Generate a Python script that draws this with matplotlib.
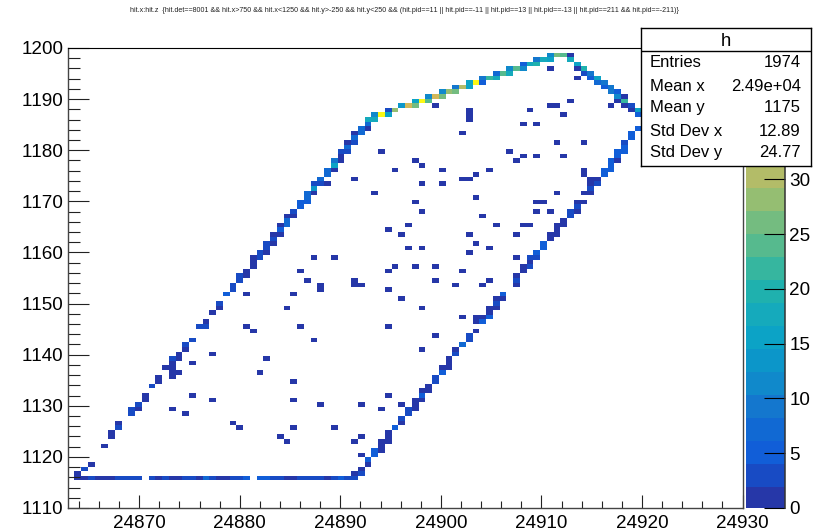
import numpy as np
import matplotlib
matplotlib.use('Agg')
import matplotlib.pyplot as plt
from matplotlib.colors import ListedColormap, BoundaryNorm
from matplotlib.ticker import MultipleLocator

plt.rcParams['font.family'] = ['Liberation Sans', 'DejaVu Sans']
plt.rcParams['text.kerning_factor'] = 6

titulo = ('hit.x:hit.z  {hit.det==8001 && hit.x>750 && hit.x<1250 && hit.y>-250 && hit.y<250 && '
          '(hit.pid==11 || hit.pid==-11 || hit.pid==13 || hit.pid==-13 || hit.pid==211 && hit.pid==-211)}')

x_min, x_max = 24862.87, 24930.0
y_min, y_max = 1110, 1200
n_bins = 100
z_max = 42
n_bandas = 20

# fila de abajo
fondo_ix = [1, 2, 3, 4, 5, 6, 7, 8, 9, 10, 12, 13, 14, 15, 16, 17, 18, 19, 20, 21, 22, 23, 24, 25, 26,
            28, 29, 30, 31, 32, 33, 34, 35, 36, 37, 38, 39, 40, 41, 42]
fondo_n = [2, 2, 3, 2, 2, 2, 4, 4, 3, 3, 4, 2, 3, 2, 2, 3, 3, 2, 7, 3, 2, 2, 3, 3, 5,
           5, 5, 3, 3, 2, 2, 3, 3, 4, 4, 2, 3, 5, 4, 4]
fondo_iy = [6] * len(fondo_ix)

# borde izquierdo
izq_ix = [1, 2, 3, 5, 6, 6, 7, 7, 9, 9, 10, 10, 11, 11, 12, 13, 13, 14, 15, 15, 15, 15, 15, 16, 16, 16,
          17, 17, 18, 19, 20, 20, 21, 22, 22, 23, 24, 24, 25, 25, 26, 26, 27, 27, 27, 28, 28, 29, 29, 29,
          30, 30, 30, 31, 31, 31, 32, 32, 32, 33, 33, 34, 34, 35, 35, 35, 36, 36, 36, 37, 37, 38, 38, 38,
          39, 39, 39, 40, 40, 40, 41, 41, 41, 42, 42, 42, 43, 43, 44, 44, 44, 45, 45, 46, 47, 47, 48]
izq_iy = [7, 8, 9, 13, 15, 16, 17, 18, 20, 21, 21, 22, 23, 24, 26, 27, 28, 30, 28, 29, 30, 31, 32, 29, 32, 33,
          34, 35, 36, 39, 39, 40, 42, 43, 44, 46, 47, 48, 49, 50, 50, 51, 52, 53, 54, 54, 55, 55, 56, 57,
          57, 58, 59, 59, 60, 61, 61, 62, 63, 63, 64, 65, 66, 66, 67, 68, 68, 69, 70, 70, 71, 70, 72, 73,
          73, 74, 75, 75, 76, 77, 77, 78, 79, 79, 80, 81, 81, 82, 82, 83, 84, 84, 85, 85, 85, 86, 86]
izq_n = [2, 4, 2, 2, 2, 2, 3, 2, 3, 3, 2, 3, 2, 2, 4, 2, 2, 2, 2, 2, 2, 2, 3, 2, 2, 2,
         2, 3, 3, 3, 3, 2, 2, 2, 4, 6, 4, 4, 4, 4, 2, 2, 2, 2, 2, 3, 4, 2, 4, 4,
         2, 4, 2, 2, 5, 2, 7, 7, 2, 2, 3, 5, 5, 5, 8, 8, 2, 14, 3, 4, 8, 2, 8, 8,
         2, 15, 9, 2, 2, 4, 4, 8, 2, 4, 8, 2, 7, 7, 2, 8, 17, 17, 11, 41, 16, 3, 28]

# borde de arriba
sup_ix = [49, 50, 51, 51, 52, 53, 53, 54, 55, 55, 56, 57, 57, 58, 59, 59, 60, 61, 61, 62, 63, 63, 64, 65, 65,
          66, 67, 67, 68, 69, 69, 70, 71, 71, 72, 73, 74, 74, 75, 75, 76, 76, 77, 77, 78, 78, 79, 79,
          80, 80, 81, 81, 81, 82, 82, 82, 83, 83, 84, 84]
sup_iy = [87, 87, 87, 88, 88, 88, 89, 89, 89, 90, 90, 90, 91, 91, 91, 92, 92, 92, 93, 93, 93, 94, 94, 94, 95,
          95, 95, 96, 96, 96, 97, 97, 97, 98, 98, 98, 98, 97, 96, 95, 95, 94, 94, 93, 93, 92, 92, 91,
          91, 90, 90, 89, 88, 89, 88, 87, 87, 86, 86, 85]
sup_n = [14, 33, 27, 15, 41, 24, 12, 32, 26, 11, 28, 27, 10, 31, 15, 15, 41, 6, 10, 22, 17, 7, 24, 18, 11,
         25, 12, 6, 18, 19, 9, 17, 16, 12, 27, 24, 2, 18, 15, 2, 19, 4, 9, 6, 16, 8, 9, 6,
         9, 9, 6, 12, 2, 2, 22, 2, 4, 2, 15, 6]

# borde de abajo a la derecha
der_ix = [42, 43, 43, 44, 44, 45, 45, 46, 46, 46, 47, 47, 47, 48, 49, 49, 50, 50, 51, 51, 51, 52, 52, 52, 53, 53,
          54, 54, 55, 55, 56, 56, 56, 57, 57, 58, 59, 59, 60, 60, 60, 61, 61, 62, 62, 62, 63, 63, 63, 64, 64,
          66, 66, 66, 67, 67, 68, 68, 68, 69, 69, 70, 70, 71, 71, 72, 72, 72, 73, 73, 74, 74, 75, 75, 75,
          76, 76, 76, 76, 77, 77, 77, 77, 78, 78, 79, 79, 80, 80, 80, 81, 81, 81, 82, 82, 82, 83, 83, 84]
der_iy = [7, 7, 8, 9, 10, 11, 12, 12, 13, 14, 14, 15, 16, 17, 18, 19, 20, 21, 21, 22, 23, 23, 24, 25, 25, 26,
          27, 28, 29, 30, 30, 31, 32, 33, 34, 35, 36, 37, 38, 40, 41, 40, 41, 41, 42, 43, 43, 44, 45, 45, 46,
          48, 49, 50, 51, 52, 52, 53, 54, 54, 55, 56, 57, 58, 59, 59, 60, 61, 61, 62, 63, 64, 64, 65, 66,
          66, 68, 72, 73, 68, 69, 70, 71, 70, 71, 72, 73, 73, 74, 75, 75, 76, 77, 77, 78, 79, 80, 81, 82]
der_n = [2, 3, 2, 2, 5, 5, 5, 2, 2, 2, 2, 2, 2, 5, 2, 4, 4, 4, 2, 2, 2, 2, 5, 2, 2, 2,
         4, 3, 5, 2, 2, 2, 2, 3, 2, 7, 4, 4, 2, 2, 2, 6, 2, 5, 2, 2, 2, 4, 2, 2, 5,
         2, 4, 2, 2, 2, 4, 2, 3, 4, 5, 5, 5, 2, 2, 2, 2, 2, 2, 2, 4, 4, 2, 4, 2,
         2, 2, 2, 2, 2, 4, 2, 2, 3, 2, 5, 5, 5, 6, 6, 2, 5, 5, 5, 5, 4, 6, 5, 6]

# puntos sueltos con una entrada
suelto_ix = [15, 17, 18, 18, 21, 21, 24, 25, 26, 26, 27, 28, 29, 31, 32, 32, 33, 33, 33, 33, 34, 34, 35, 36, 37, 37, 37, 39,
             42, 42, 42, 43, 43, 43, 43, 46, 47, 47, 47, 47, 48, 49, 49, 36, 39, 45, 47, 46, 48, 42, 49,
             54, 59, 59, 59, 68, 71, 72, 74, 73, 67, 69, 58, 72, 76, 65, 67, 66, 69, 73, 51, 52, 55, 62, 60, 58, 59,
             52, 55, 72, 60, 51, 69, 70, 52, 69, 71, 61, 50, 63, 67, 68, 59, 66, 60, 50, 52, 62, 59, 66,
             51, 54, 58, 54, 57, 61, 62, 52, 58, 54, 52, 80, 75, 71]
suelto_iy = [21, 20, 24, 31, 23, 33, 18, 17, 46, 39, 38, 29, 32, 15, 14, 43, 17, 23, 27, 46, 39, 51, 49, 36, 47, 48, 22, 17,
             48, 49, 14, 48, 22, 15, 11, 21, 24, 39, 47, 51, 52, 45, 22, 54, 54, 68, 60, 77, 73, 71, 59,
             87, 84, 85, 86, 86, 87, 87, 88, 85, 83, 83, 81, 79, 79, 77, 76, 75, 76, 76, 75, 74, 73, 73, 72, 71, 71,
             70, 70, 68, 67, 66, 66, 66, 64, 64, 64, 63, 61, 61, 61, 61, 59, 59, 57, 56, 56, 56, 55, 54,
             52, 52, 51, 49, 48, 48, 49, 43, 41, 37, 34, 87, 93, 95]

x_edges = np.linspace(x_min, x_max, n_bins + 1)
y_edges = np.linspace(y_min, y_max, n_bins + 1)
ticks_z = [0, 5, 10, 15, 20, 25, 30]

colores = ['#2637A8', '#184BC4', '#115ED8', '#1169D3', '#1477CE', '#1089CB', '#0C96C9', '#0CA3C6', '#15AABC', '#1FB1AE',
           '#36B69F', '#56BA8E', '#74BC80', '#95BE72', '#B3BC68', '#D2B85A', '#E8BE45', '#F5CC30', '#F8DF20', '#FBF814']
paleta = ListedColormap(colores)

ix = np.array(fondo_ix + izq_ix + sup_ix + der_ix + suelto_ix)
iy = np.array(fondo_iy + izq_iy + sup_iy + der_iy + suelto_iy)
n = np.array(fondo_n + izq_n + sup_n + der_n + [1] * len(suelto_ix), dtype=float)

# pasar del numero de bin al centro del bin
x = x_edges[ix] + (x_edges[1] - x_edges[0]) / 2
y = y_edges[iy] + (y_edges[1] - y_edges[0]) / 2

W, H = 825, 532
fig = plt.figure(figsize=(W / 100, H / 100), dpi=100)
ax = fig.add_axes([67.5 / W, 1 - 508 / H, 675 / W, 460 / H])

norm = BoundaryNorm(np.linspace(0, z_max, n_bandas + 1), n_bandas)
h = ax.hist2d(x, y, bins=[x_edges, y_edges], weights=n, cmap=paleta, norm=norm, cmin=0.5)

ax.set_xlim(x_min, x_max)
ax.set_ylim(y_min, y_max)
ax.xaxis.set_major_locator(MultipleLocator(10))
ax.xaxis.set_minor_locator(MultipleLocator(2))
ax.yaxis.set_major_locator(MultipleLocator(10))
ax.yaxis.set_minor_locator(MultipleLocator(2))
ax.ticklabel_format(useOffset=False, style='plain')
ax.tick_params(axis='x', which='major', direction='in', length=9.4, width=0.8, labelsize=13.6, pad=5, color='#222222')
ax.tick_params(axis='x', which='minor', direction='in', length=5.4, width=0.8, color='#222222')
ax.tick_params(axis='y', which='major', direction='in', length=15, width=0.8, labelsize=13.6, pad=3, color='#222222')
ax.tick_params(axis='y', which='minor', direction='in', length=8.3, width=0.8, color='#222222')
for lado in ['left', 'bottom', 'right']:
    ax.spines[lado].set_linewidth(1.0)
    ax.spines[lado].set_color('#444444')
ax.spines['top'].set_linewidth(0.8)

fig.text(404 / W, 1 - 10 / H, titulo, fontsize=5.15, ha='center', va='center', color='#222222')

# barra de color
cax = fig.add_axes([745.7 / W, 1 - 508 / H, 39.3 / W, 460 / H])
cb = fig.colorbar(h[3], cax=cax, ticks=ticks_z, spacing='proportional')
cb.outline.set_visible(False)
cb.solids.set_edgecolor('face')
cax.minorticks_off()
cax.tick_params(axis='y', direction='in', length=15, width=0.8, labelsize=13.6, pad=3, color='black')
cax.set_yticklabels([str(t) for t in ticks_z])
fig.add_artist(plt.Line2D([785 / W, 785 / W], [1 - 508 / H, 1 - 48 / H], color='#333333', lw=1.1))

# caja de estadisticas
caja = fig.add_axes([641 / W, 1 - 165.7 / H, 169.7 / W, 137.7 / H])
caja.set_xlim(641, 810.7)
caja.set_ylim(165.7, 28)
caja.set_xticks([])
caja.set_yticks([])
caja.set_zorder(5)
for s in caja.spines.values():
    s.set_linewidth(1.0)
caja.axhline(50.7, color='black', lw=1.0)
caja.text(725.7, 41.5, 'h', fontsize=13.3, ha='center', va='center')
filas = ['Entries', 'Mean x', 'Mean y', 'Std Dev x', 'Std Dev y']
valores = ['1974', '2.49e+04', '1175', '12.89', '24.77']
filas_y = [63, 87, 108, 132, 153]
for etiqueta, valor, fy in zip(filas, valores, filas_y):
    caja.text(650, fy, etiqueta, fontsize=12, ha='left', va='center')
    caja.text(801, fy, valor, fontsize=12, ha='right', va='center')

fig.savefig('out.png', dpi=100)
